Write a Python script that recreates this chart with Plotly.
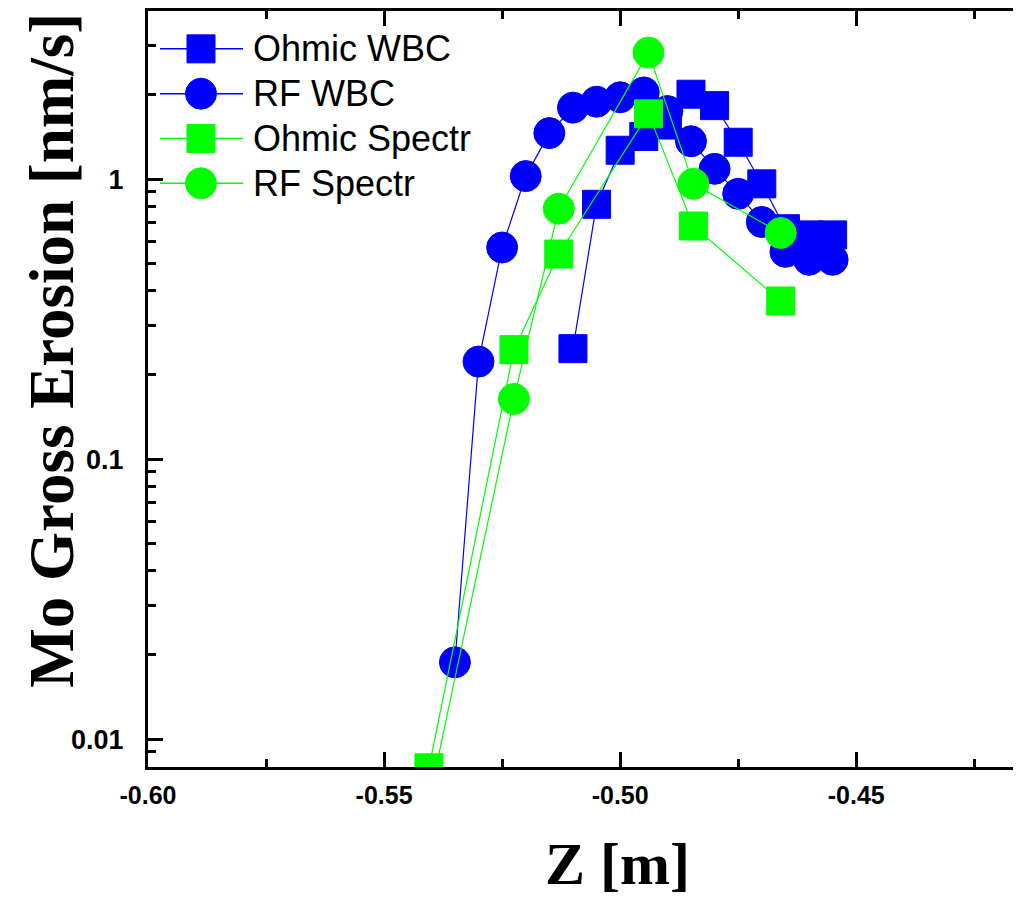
import plotly.graph_objects as go

# ---------------- data ----------------
rf_wbc_z = [-0.535, -0.530, -0.525, -0.520, -0.515, -0.510, -0.505, -0.500, -0.495,
            -0.490, -0.485, -0.480, -0.475, -0.470, -0.465, -0.460, -0.455]
rf_wbc = [0.0188, 0.223, 0.570, 1.025, 1.46, 1.80, 1.89, 1.96, 2.04,
          1.75, 1.365, 1.088, 0.886, 0.703, 0.55, 0.515, 0.515]

ohmic_wbc_z = [-0.510, -0.505, -0.500, -0.495, -0.490, -0.485, -0.480, -0.475,
               -0.470, -0.465, -0.460, -0.455]
ohmic_wbc = [0.248, 0.813, 1.268, 1.42, 1.56, 2.01, 1.83, 1.354, 0.962, 0.665, 0.632, 0.632]

spectr_z = [-0.5405, -0.5225, -0.513, -0.494, -0.4845, -0.466]
ohmic_spectr = [0.0079, 0.246, 0.540, 1.71, 0.680, 0.367]
rf_spectr = [0.006, 0.164, 0.784, 2.83, 0.962, 0.642]

series_names = ["Ohmic WBC", "RF WBC", "Ohmic Spectr", "RF Spectr"]

x_range = [-0.60, -0.4168]
y_range_log = [-2.0996, 0.6004]
x_tickvals = [-0.60, -0.55, -0.50, -0.45, -0.40]
x_ticktext = ["-0.60", "-0.55", "-0.50", "-0.45", "-0.40"]
y_tickvals = [0.01, 0.1, 1]
y_ticktext = ["0.01", "0.1", "1"]
y_minor = [0.008, 0.009] + [k * 0.01 for k in range(2, 10)] + [k * 0.1 for k in range(2, 10)] + [2, 3]

# ---------------- layout constants ----------------
W, H = 1022, 897
L, R, T, B = 148, 9, 8, 130
PW, PH = W - L - R, H - T - B

def pxx(px):
    return (px - L) / PW

def pxy(py):
    return 1 - (py - T) / PH

BLUE = "#0000FF"
GREEN = "#00FF00"
styles = [
    ("square", BLUE, 28),
    ("circle", BLUE, 31),
    ("square", GREEN, 28),
    ("circle", GREEN, 31),
]
data = [
    (ohmic_wbc_z, ohmic_wbc),
    (rf_wbc_z, rf_wbc),
    (spectr_z, ohmic_spectr),
    (spectr_z, rf_spectr),
]

fig = go.Figure()
for name, (xs, ys), (sym, col, size) in zip(series_names, data, styles):
    fig.add_trace(go.Scatter(
        x=xs, y=ys, name=name, mode="lines+markers",
        line=dict(color=col, width=1.2),
        marker=dict(symbol=sym, size=size, color=col, line=dict(color=col, width=1)),
        showlegend=False, cliponaxis=True,
    ))

# ---------------- custom legend (Origin style) ----------------
shapes = []
annotations = []
row_y = [46, 91, 136, 181]
for name, (sym, col, size), ry in zip(series_names, styles, row_y):
    shapes.append(dict(type="line", xref="paper", yref="paper",
                       x0=pxx(160), x1=pxx(243), y0=pxy(ry), y1=pxy(ry),
                       line=dict(color=col, width=1.5)))
    half = size / 2
    shapes.append(dict(type="rect" if sym == "square" else "circle",
                       xref="paper", yref="paper",
                       xsizemode="pixel", ysizemode="pixel",
                       xanchor=pxx(201), yanchor=pxy(ry),
                       x0=-half, x1=half, y0=-half, y1=half,
                       fillcolor=col, line=dict(color=col, width=1)))
    annotations.append(dict(text=name, xref="paper", yref="paper",
                            x=pxx(251), y=pxy(ry), xanchor="left", yanchor="middle",
                            showarrow=False,
                            font=dict(family="Liberation Sans, Arial", size=36, color="black")))

# axis titles
annotations.append(dict(text="Mo Gross Erosion [nm/s]", xref="paper", yref="paper",
                        x=pxx(52), y=pxy(349), textangle=-90, showarrow=False,
                        xanchor="center", yanchor="middle",
                        font=dict(family="Liberation Serif, Times New Roman", size=63,
                                  color="black", weight="bold")))
annotations.append(dict(text="Z [m]", xref="paper", yref="paper",
                        x=pxx(617), y=pxy(864), showarrow=False,
                        xanchor="center", yanchor="middle",
                        font=dict(family="Liberation Serif, Times New Roman", size=60,
                                  color="black", weight="bold")))

tickfont = dict(family="Liberation Sans, Arial", size=25, color="black", weight="bold")

fig.update_layout(
    width=W, height=H,
    margin=dict(l=L, r=R, t=T, b=B),
    paper_bgcolor="white", plot_bgcolor="white",
    shapes=shapes, annotations=annotations,
    showlegend=False,
    xaxis=dict(
        range=x_range, showgrid=False, zeroline=False,
        showline=True, linecolor="black", linewidth=3, mirror="ticks",
        ticks="inside", ticklen=15, tickwidth=2.5, tickcolor="black",
        tickmode="array", tickvals=x_tickvals, ticktext=x_ticktext,
        tickfont=tickfont, ticklabelstandoff=4,
        minor=dict(ticks="inside", ticklen=8, tickwidth=2.5, tickcolor="black",
                   dtick=0.025, tick0=-0.6, showgrid=False),
    ),
    yaxis=dict(
        type="log", range=y_range_log, showgrid=False, zeroline=False,
        showline=True, linecolor="black", linewidth=3, mirror=False,
        ticks="inside", ticklen=15, tickwidth=2.5, tickcolor="black",
        tickmode="array", tickvals=y_tickvals, ticktext=y_ticktext,
        tickfont=dict(family="Liberation Sans, Arial", size=27, color="black", weight="bold"),
        ticklabelstandoff=16,
        minor=dict(ticks="inside", ticklen=8, tickwidth=2.5, tickcolor="black",
                   tickmode="array", tickvals=y_minor, showgrid=False),
    ),
)

fig.write_html("out.html")
